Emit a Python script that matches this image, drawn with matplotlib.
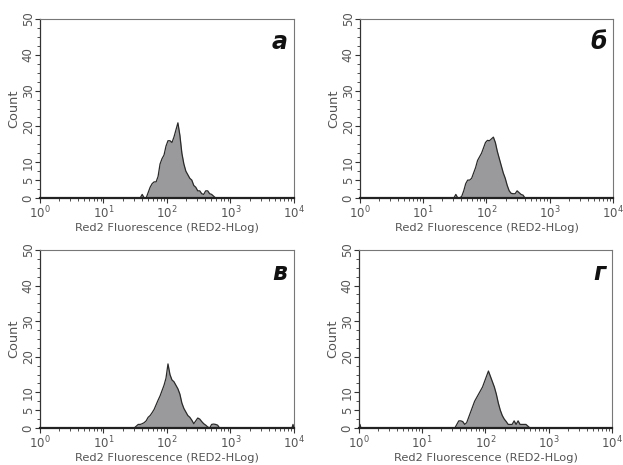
import numpy as np
import matplotlib
matplotlib.use("Agg")
import matplotlib.pyplot as plt
from matplotlib.ticker import FixedLocator, LogLocator, NullFormatter

# histogram channels: 32 bins per decade, bin k spans log10 [k/32, (k+1)/32]
BINS_PER_DECADE = 32

# panel а
start_a = 50
counts_a = [0, 1, 0, 0, 1.5, 3, 4, 4.5, 4.5, 6, 9.5, 11, 12, 14.5, 16, 16, 15.5,
            17, 19, 21, 17.5, 12.5, 9.5, 7.5, 6.5, 5.5, 5, 3.5, 3, 2, 2, 1.2, 1,
            2, 2, 1.2, 1, 0.5, 0]

# panel б
start_b = 47
counts_b = [0, 1, 0, 0, 0.5, 2, 4, 5, 5, 5.5, 7, 8.5, 10.5, 11.5, 12.5, 14, 15.5,
            16.1, 16, 16.5, 17, 15.5, 13, 11, 9, 7, 5.5, 3.5, 2, 1.3, 1.2, 1.2,
            2, 1.5, 1, 0.8, 0]

# panel в
start_c = 47
counts_c = [0, 0.5, 1, 1, 1.2, 1.5, 2, 3, 3.5, 4.3, 5.2, 6.5, 7.8, 9, 10.5, 12,
            14, 18, 15, 13.5, 13, 12, 11, 9.5, 7, 5.5, 4.5, 3.5, 3, 2.2, 1.2, 2,
            2.8, 2.5, 1.8, 1.2, 0.8, 0.3, 0, 1, 1.1, 1, 0.8, 0]
edge_c = (127, 1.0)   # event piled up in the last channel

# panel г
start_d = 48
counts_d = [0, 1, 2, 2, 1.8, 1, 1.5, 3, 4.5, 6, 7.5, 8.5, 9.5, 10.5, 11.5, 13,
            14.5, 16, 14.5, 13, 11.5, 9.5, 7, 5, 3.5, 2.5, 1.8, 1, 1, 1, 2, 1,
            2, 1, 1, 1, 1, 0.5, 0]
edge_d = (0, 1.0)     # event piled up in the first channel

letters = ["а", "б", "в", "г"]
x_label = "Red2 Fluorescence (RED2-HLog)"
y_label = "Count"
y_major = [0, 5, 10, 20, 30, 40, 50]

panels = [(start_a, counts_a, None), (start_b, counts_b, None),
          (start_c, counts_c, edge_c), (start_d, counts_d, edge_d)]

# axes rectangles [left, bottom, width, height] in figure fraction
rects = [[0.0642, 0.5742, 0.4077, 0.3849],
         [0.5778, 0.5742, 0.4061, 0.3849],
         [0.0642, 0.0796, 0.4077, 0.3828],
         [0.5762, 0.0796, 0.4061, 0.3828]]

fill_col = "#9a9a9c"
line_col = "#2a2a2a"
text_col = "#555555"

fig = plt.figure(figsize=(6.23, 4.65), dpi=100)

for i in range(4):
    ax = fig.add_axes(rects[i])
    start, counts, edge = panels[i]
    k = start + np.arange(len(counts))
    x = 10 ** ((k + 0.5) / BINS_PER_DECADE)
    ax.fill_between(x, counts, 0, color=fill_col, linewidth=0)
    ax.plot(x, counts, color=line_col, linewidth=0.9)
    if edge is not None:
        ke, ce = edge
        xe = 10 ** (np.array([ke, ke + 0.5, ke + 1]) / BINS_PER_DECADE)
        ax.fill_between(xe, [0, ce, 0], 0, color=fill_col, linewidth=0)
        ax.plot(xe, [0, ce, 0], color=line_col, linewidth=0.9)

    ax.set_xscale("log")
    ax.set_xlim(1, 1e4)
    ax.set_ylim(0, 50)

    ax.xaxis.set_major_locator(LogLocator(base=10, numticks=10))
    ax.xaxis.set_minor_locator(LogLocator(base=10, subs=np.arange(2, 10), numticks=10))
    ax.xaxis.set_minor_formatter(NullFormatter())
    ax.yaxis.set_major_locator(FixedLocator(y_major))
    ax.yaxis.set_minor_locator(FixedLocator(np.arange(0, 50.1, 2.5)))

    ax.tick_params(axis="both", which="major", direction="out", length=3.5,
                   width=0.8, color="#333333", labelsize=8.5, labelcolor=text_col, pad=1.5)
    ax.tick_params(axis="y", which="major", pad=0.3)
    ax.tick_params(axis="both", which="minor", direction="out", length=2,
                   width=0.6, color="#333333")
    for lab in ax.get_yticklabels():
        lab.set_rotation(90)
        lab.set_va("center")

    ax.spines["bottom"].set_linewidth(1.6)
    ax.spines["bottom"].set_color("#222222")
    ax.spines["left"].set_linewidth(0.9)
    ax.spines["left"].set_color("#333333")
    for s in ["top", "right"]:
        ax.spines[s].set_linewidth(0.8)
        ax.spines[s].set_color("#777777")

    ax.set_xlabel(x_label, fontsize=8.2, color=text_col, labelpad=1)
    ax.set_ylabel(y_label, fontsize=9.3, color=text_col)
    ax.yaxis.set_label_coords(-0.078, 0.5)

    ax.text(0.975, 0.87, letters[i], transform=ax.transAxes, ha="right", va="center",
            fontsize=17, fontweight="bold", fontstyle="italic", color="#111111")

fig.savefig("out.png", dpi=100)
